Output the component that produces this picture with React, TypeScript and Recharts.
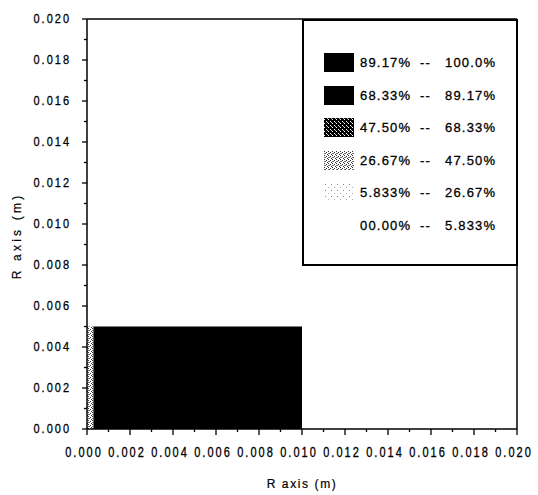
import React from 'react';
import { ComposedChart, Area, XAxis, YAxis, ReferenceLine } from 'recharts';

// axis ticks (metres)
const majorTicks = [0, 0.002, 0.004, 0.006, 0.008, 0.01, 0.012, 0.014, 0.016, 0.018, 0.02];
const minorTicks = [0.001, 0.003, 0.005, 0.007, 0.009, 0.011, 0.013, 0.015, 0.017, 0.019];
const tickLabels = ['0.000', '0.002', '0.004', '0.006', '0.008', '0.010', '0.012', '0.014', '0.016', '0.018', '0.020'];

// contour bands: r positions and band heights
const rValues = [0, 0.0003, 0.01];
const edgeBand = [0.005, 0, 0]; // thin grey strip at r = 0
const coreBand = [0, 0.005, 0.005]; // 89.17 - 100 %

// legend levels
const levelFrom = ['89.17%', '68.33%', '47.50%', '26.67%', '5.833%', '00.00%'];
const levelTo = ['100.0%', '89.17%', '68.33%', '47.50%', '26.67%', '5.833%'];

const levelSwatch = ['#000', '#000', 'url(#dither-dark)', 'url(#dither-mid)', 'url(#dither-light)', 'none'];

const chartData = rValues.map((r, i) => ({ r, edge: edgeBand[i], core: coreBand[i] }));
const allTicks = [...majorTicks, ...minorTicks].sort((a, b) => a - b);

const FONT = '"Liberation Sans", Arial, sans-serif';

const isMajor = (v: number) => Math.round(v * 1000) % 2 === 0;
const labelFor = (v: number) => tickLabels[Math.round(v * 500)];

const XTick = (props: any) => {
  const { x, y, payload } = props;
  const major = isMajor(payload.value);
  return (
    <g>
      <line x1={x} x2={x} y1={y} y2={y + (major ? 6 : 3)} stroke="#000" strokeWidth={1.3} />
      {major && (
        <text
          transform={`translate(${x - 3}, ${y + 28}) scale(1, 1.25)`}
          textAnchor="middle"
          fontFamily={FONT}
          fontSize={11}
          letterSpacing={2}
          fill="#000"
          stroke="#000"
          strokeWidth={0.25}
        >
          {labelFor(payload.value)}
        </text>
      )}
    </g>
  );
};

const YTick = (props: any) => {
  const { x, y, payload } = props;
  const major = isMajor(payload.value);
  return (
    <g>
      <line x1={x} x2={x - (major ? 5 : 3)} y1={y} y2={y} stroke="#000" strokeWidth={1.3} />
      {major && (
        <text
          transform={`translate(${x - 16}, ${y + 4}) scale(1, 1.15)`}
          textAnchor="end"
          fontFamily={FONT}
          fontSize={11}
          letterSpacing={2}
          fill="#000"
          stroke="#000"
          strokeWidth={0.25}
        >
          {labelFor(payload.value)}
        </text>
      )}
    </g>
  );
};

const LegendBox = () => (
  <div
    style={{
      position: 'absolute',
      left: 302,
      top: 19,
      width: 216,
      height: 247,
      boxSizing: 'border-box',
      border: '2px solid #000',
      background: '#fff',
      fontFamily: FONT,
      fontSize: 13,
      letterSpacing: 1.2,
      lineHeight: '18px',
      color: '#000',
      WebkitTextStroke: '0.3px #000',
    }}
  >
    {levelFrom.map((from, i) => (
      <div key={from} style={{ position: 'absolute', left: 0, top: 32 + i * 32.5, height: 19, width: 212 }}>
        <svg width={30} height={19} style={{ position: 'absolute', left: 20, top: 0 }}>
          <rect width={30} height={19} fill={levelSwatch[i]} />
        </svg>
        <span style={{ position: 'absolute', left: 56, top: 1 }}>{from}</span>
        <span style={{ position: 'absolute', left: 116, top: 1 }}>--</span>
        <span style={{ position: 'absolute', left: 141, top: 1 }}>{levelTo[i]}</span>
      </div>
    ))}
  </div>
);

export default function App() {
  return (
    <div style={{ position: 'absolute', left: 0, top: 0, width: 538, height: 495, background: '#fff' }}>
      <svg width={0} height={0} style={{ position: 'absolute' }}>
        <defs>
          <pattern id="dither-dark" width={4} height={4} patternUnits="userSpaceOnUse">
            <rect width={4} height={4} fill="#000" />
            <rect x={0} y={1} width={1} height={1} fill="#fff" />
            <rect x={2} y={3} width={1} height={1} fill="#fff" />
            <rect x={3} y={0} width={1} height={1} fill="#bbb" />
          </pattern>
          <pattern id="dither-mid" width={4} height={4} patternUnits="userSpaceOnUse">
            <rect width={4} height={4} fill="#fff" />
            <rect x={0} y={0} width={1} height={1} fill="#333" />
            <rect x={2} y={1} width={1} height={1} fill="#333" />
            <rect x={1} y={2} width={1} height={1} fill="#555" />
            <rect x={3} y={3} width={1} height={1} fill="#333" />
            <rect x={0} y={2} width={1} height={1} fill="#777" />
          </pattern>
          <pattern id="dither-light" width={6} height={6} patternUnits="userSpaceOnUse">
            <rect width={6} height={6} fill="#fff" />
            <rect x={1} y={1} width={1} height={1} fill="#888" />
            <rect x={4} y={4} width={1} height={1} fill="#aaa" />
          </pattern>
        </defs>
      </svg>
      <ComposedChart width={538} height={495} data={chartData} margin={{ top: 19, right: 21, left: 0, bottom: 0 }}>
        <XAxis
          type="number"
          dataKey="r"
          domain={[0, 0.02]}
          ticks={allTicks}
          interval={0}
          height={66}
          tickSize={0}
          tickMargin={0}
          tickLine={false}
          tick={<XTick />}
          axisLine={{ stroke: '#000', strokeWidth: 1.5 }}
          allowDataOverflow
          label={{
            position: 'insideBottom',
            content: (p: any) => (
              <text
                x={p.viewBox.x + p.viewBox.width / 2}
                y={488}
                textAnchor="middle"
                fontFamily={FONT}
                fontSize={12}
                letterSpacing={1.6}
                fill="#000"
                stroke="#000"
                strokeWidth={0.2}
              >
                R axis (m)
              </text>
            ),
          }}
        />
        <YAxis
          type="number"
          domain={[0, 0.02]}
          ticks={allTicks}
          interval={0}
          width={87}
          tickSize={0}
          tickMargin={0}
          tickLine={false}
          tick={<YTick />}
          axisLine={{ stroke: '#000', strokeWidth: 1.5 }}
          allowDataOverflow
          label={{
            position: 'insideLeft',
            content: () => (
              <text
                x={21}
                y={236}
                transform="rotate(-90 21 236)"
                textAnchor="middle"
                fontFamily={FONT}
                fontSize={12}
                letterSpacing={3.2}
                fill="#000"
                stroke="#000"
                strokeWidth={0.2}
              >
                R axis (m)
              </text>
            ),
          }}
        />
        <Area
          type="stepAfter"
          dataKey="edge"
          stroke="none"
          fill="url(#dither-mid)"
          fillOpacity={1}
          dot={false}
          activeDot={false}
          isAnimationActive={false}
        />
        <Area
          type="stepAfter"
          dataKey="core"
          stroke="none"
          fill="#000"
          fillOpacity={1}
          dot={false}
          activeDot={false}
          isAnimationActive={false}
        />
        <ReferenceLine y={0.02} stroke="#000" strokeWidth={1.5} />
        <ReferenceLine x={0.02} stroke="#000" strokeWidth={1.5} />
      </ComposedChart>
      <LegendBox />
    </div>
  );
}
